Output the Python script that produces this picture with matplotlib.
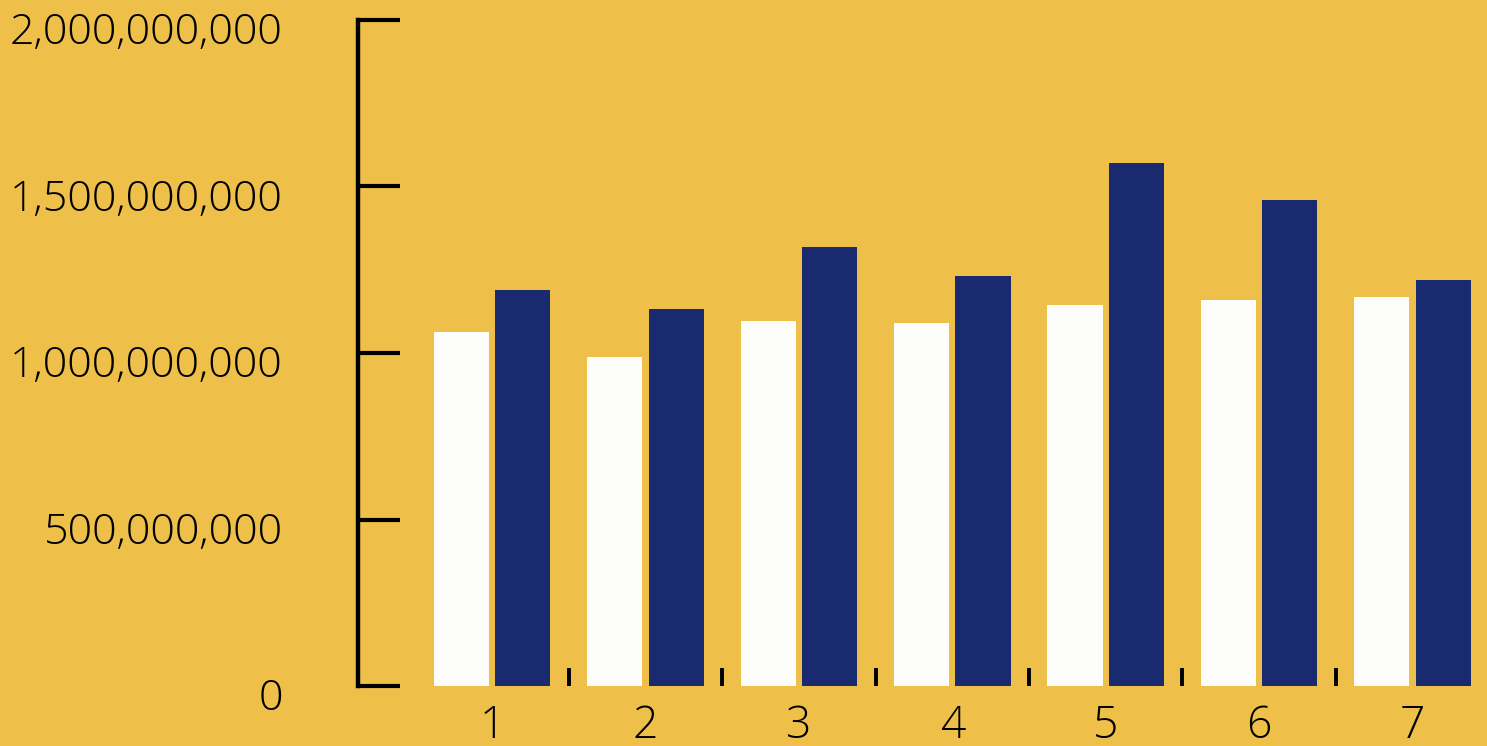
import matplotlib
matplotlib.use("Agg")
import numpy as np
import matplotlib.pyplot as plt
from matplotlib.transforms import ScaledTranslation

# values
groups = ["1", "2", "3", "4", "5", "6", "7"]
white_vals = [1.063e9, 0.988e9, 1.096e9, 1.090e9, 1.144e9, 1.159e9, 1.168e9]
navy_vals = [1.189e9, 1.132e9, 1.318e9, 1.231e9, 1.571e9, 1.459e9, 1.219e9]
ytick_vals = [0, 500000000, 1000000000, 1500000000, 2000000000]
ytick_labels = ["0", "500,000,000", "1,000,000,000", "1,500,000,000", "2,000,000,000"]

bg = "#EEC04A"
navy = "#192A6E"
white = "#FDFDFB"

plt.rcParams['font.family'] = ['Open Sans', 'DejaVu Sans']

fig = plt.figure(figsize=(14.87, 7.46), dpi=100, facecolor=bg)
ax = fig.add_axes([358 / 1487, 60 / 746, 1 - 358 / 1487, 666 / 746])
ax.set_facecolor(bg)

x = np.arange(len(groups))
ax.bar(x - 0.2, white_vals, width=0.36, color=white, zorder=2)
ax.bar(x + 0.2, navy_vals, width=0.36, color=navy, zorder=2)

ax.set_xlim(-0.874, 6.486)
ax.set_ylim(0, 2e9)

for s in ["top", "right", "bottom"]:
    ax.spines[s].set_visible(False)
ax.spines["left"].set_linewidth(3.2)
ax.spines["left"].set_color("black")

ax.set_yticks(ytick_vals)
ax.set_yticklabels(ytick_labels)
ax.tick_params(axis="y", direction="in", length=30, width=3, pad=54,
               labelsize=31, colors="black")
for lab in ax.get_yticklabels():
    lab.set_fontweight("light")
    lab.set_transform(lab.get_transform() + ScaledTranslation(0, -0.08, fig.dpi_scale_trans))

ax.set_xticks(x)
ax.set_xticklabels(groups)
ax.set_xticks(x[:-1] + 0.5, minor=True)
ax.tick_params(axis="x", which="major", length=0, pad=13, labelsize=32)
ax.tick_params(axis="x", which="minor", direction="in", length=13, width=2.8)
for lab in ax.get_xticklabels():
    lab.set_fontweight("light")

fig.savefig("out.png", dpi=100, facecolor=bg)
